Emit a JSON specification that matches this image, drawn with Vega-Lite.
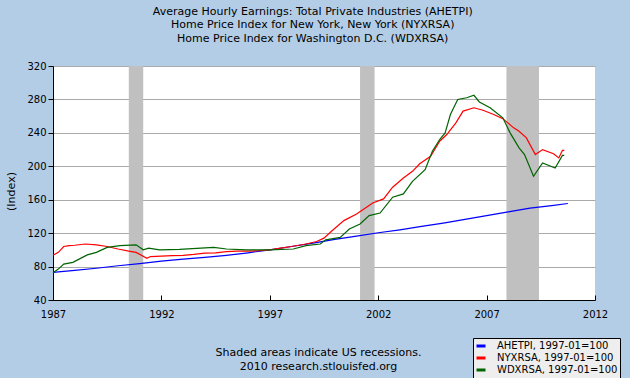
{
  "$schema": "https://vega.github.io/schema/vega-lite/v6.json",
  "width": 542,
  "height": 234,
  "autosize": {"type": "none"},
  "padding": {"left": 53, "top": 66, "right": 35, "bottom": 78},
  "background": "#b4cde6",
  "config": {
    "font": "DejaVu Sans",
    "view": {"stroke": null, "fill": "white"},
    "axis": {"labelFont": "DejaVu Sans", "labelFontSize": 10, "labelColor": "black", "titleFont": "DejaVu Sans", "titleFontWeight": "normal", "titleColor": "black", "domainColor": "black", "tickColor": "black"}
  },
  "title": {
    "text": ["Average Hourly Earnings: Total Private Industries (AHETPI)", "Home Price Index for New York, New York (NYXRSA)", "Home Price Index for Washington D.C. (WDXRSA)"],
    "anchor": "middle",
    "frame": "bounds",
    "offset": 17,
    "fontSize": 11,
    "fontWeight": "normal",
    "font": "DejaVu Sans",
    "color": "black",
    "lineHeight": 13.6
  },
  "datasets": {
    "recessions": [
      {"start": "1990-07-01", "end": "1991-03-01"},
      {"start": "2001-03-01", "end": "2001-11-01"},
      {"start": "2007-12-01", "end": "2009-06-01"}
    ],
    "series": [
      {"date": "1987-01-01", "series": "AHETPI, 1997-01=100", "value": 73},
      {"date": "1988-01-01", "series": "AHETPI, 1997-01=100", "value": 75.5},
      {"date": "1989-01-01", "series": "AHETPI, 1997-01=100", "value": 78},
      {"date": "1990-01-01", "series": "AHETPI, 1997-01=100", "value": 81},
      {"date": "1991-01-01", "series": "AHETPI, 1997-01=100", "value": 83.5},
      {"date": "1992-01-01", "series": "AHETPI, 1997-01=100", "value": 86.5},
      {"date": "1993-01-01", "series": "AHETPI, 1997-01=100", "value": 89},
      {"date": "1994-01-01", "series": "AHETPI, 1997-01=100", "value": 91},
      {"date": "1995-01-01", "series": "AHETPI, 1997-01=100", "value": 93.5},
      {"date": "1996-01-01", "series": "AHETPI, 1997-01=100", "value": 96.5},
      {"date": "1997-01-01", "series": "AHETPI, 1997-01=100", "value": 100},
      {"date": "1998-01-01", "series": "AHETPI, 1997-01=100", "value": 104},
      {"date": "1999-01-01", "series": "AHETPI, 1997-01=100", "value": 108},
      {"date": "2000-01-01", "series": "AHETPI, 1997-01=100", "value": 112.5},
      {"date": "2001-01-01", "series": "AHETPI, 1997-01=100", "value": 116.5},
      {"date": "2002-01-01", "series": "AHETPI, 1997-01=100", "value": 120.5},
      {"date": "2003-01-01", "series": "AHETPI, 1997-01=100", "value": 124},
      {"date": "2004-01-01", "series": "AHETPI, 1997-01=100", "value": 128},
      {"date": "2005-01-01", "series": "AHETPI, 1997-01=100", "value": 132},
      {"date": "2006-01-01", "series": "AHETPI, 1997-01=100", "value": 136.5},
      {"date": "2007-01-01", "series": "AHETPI, 1997-01=100", "value": 141},
      {"date": "2008-01-01", "series": "AHETPI, 1997-01=100", "value": 145.5},
      {"date": "2009-01-01", "series": "AHETPI, 1997-01=100", "value": 150},
      {"date": "2010-01-01", "series": "AHETPI, 1997-01=100", "value": 153},
      {"date": "2010-10-01", "series": "AHETPI, 1997-01=100", "value": 155.5},

      {"date": "1987-01-01", "series": "NYXRSA, 1997-01=100", "value": 93.5},
      {"date": "1987-04-01", "series": "NYXRSA, 1997-01=100", "value": 97},
      {"date": "1987-07-01", "series": "NYXRSA, 1997-01=100", "value": 104},
      {"date": "1987-10-01", "series": "NYXRSA, 1997-01=100", "value": 105},
      {"date": "1988-01-01", "series": "NYXRSA, 1997-01=100", "value": 105.5},
      {"date": "1988-07-01", "series": "NYXRSA, 1997-01=100", "value": 107},
      {"date": "1989-01-01", "series": "NYXRSA, 1997-01=100", "value": 106},
      {"date": "1989-07-01", "series": "NYXRSA, 1997-01=100", "value": 104},
      {"date": "1990-01-01", "series": "NYXRSA, 1997-01=100", "value": 101},
      {"date": "1990-07-01", "series": "NYXRSA, 1997-01=100", "value": 98.5},
      {"date": "1990-11-01", "series": "NYXRSA, 1997-01=100", "value": 97},
      {"date": "1991-05-01", "series": "NYXRSA, 1997-01=100", "value": 90},
      {"date": "1991-07-01", "series": "NYXRSA, 1997-01=100", "value": 92},
      {"date": "1992-01-01", "series": "NYXRSA, 1997-01=100", "value": 92.5},
      {"date": "1992-07-01", "series": "NYXRSA, 1997-01=100", "value": 93},
      {"date": "1993-01-01", "series": "NYXRSA, 1997-01=100", "value": 93.5},
      {"date": "1993-07-01", "series": "NYXRSA, 1997-01=100", "value": 94.5},
      {"date": "1994-01-01", "series": "NYXRSA, 1997-01=100", "value": 96},
      {"date": "1994-07-01", "series": "NYXRSA, 1997-01=100", "value": 96.5},
      {"date": "1995-01-01", "series": "NYXRSA, 1997-01=100", "value": 98},
      {"date": "1995-07-01", "series": "NYXRSA, 1997-01=100", "value": 98.5},
      {"date": "1996-01-01", "series": "NYXRSA, 1997-01=100", "value": 98.5},
      {"date": "1996-07-01", "series": "NYXRSA, 1997-01=100", "value": 99},
      {"date": "1997-01-01", "series": "NYXRSA, 1997-01=100", "value": 100},
      {"date": "1997-07-01", "series": "NYXRSA, 1997-01=100", "value": 102},
      {"date": "1998-01-01", "series": "NYXRSA, 1997-01=100", "value": 104},
      {"date": "1998-09-01", "series": "NYXRSA, 1997-01=100", "value": 107},
      {"date": "1999-03-01", "series": "NYXRSA, 1997-01=100", "value": 110},
      {"date": "1999-07-01", "series": "NYXRSA, 1997-01=100", "value": 114},
      {"date": "1999-11-01", "series": "NYXRSA, 1997-01=100", "value": 122},
      {"date": "2000-06-01", "series": "NYXRSA, 1997-01=100", "value": 135},
      {"date": "2001-01-01", "series": "NYXRSA, 1997-01=100", "value": 143},
      {"date": "2001-10-01", "series": "NYXRSA, 1997-01=100", "value": 156},
      {"date": "2002-04-01", "series": "NYXRSA, 1997-01=100", "value": 161},
      {"date": "2002-09-01", "series": "NYXRSA, 1997-01=100", "value": 175},
      {"date": "2003-03-01", "series": "NYXRSA, 1997-01=100", "value": 186},
      {"date": "2003-08-01", "series": "NYXRSA, 1997-01=100", "value": 194},
      {"date": "2003-12-01", "series": "NYXRSA, 1997-01=100", "value": 203},
      {"date": "2004-06-01", "series": "NYXRSA, 1997-01=100", "value": 212},
      {"date": "2004-11-01", "series": "NYXRSA, 1997-01=100", "value": 230},
      {"date": "2005-03-01", "series": "NYXRSA, 1997-01=100", "value": 238},
      {"date": "2005-08-01", "series": "NYXRSA, 1997-01=100", "value": 252},
      {"date": "2005-12-01", "series": "NYXRSA, 1997-01=100", "value": 266},
      {"date": "2006-06-01", "series": "NYXRSA, 1997-01=100", "value": 270},
      {"date": "2006-11-01", "series": "NYXRSA, 1997-01=100", "value": 267},
      {"date": "2007-05-01", "series": "NYXRSA, 1997-01=100", "value": 262},
      {"date": "2007-10-01", "series": "NYXRSA, 1997-01=100", "value": 257},
      {"date": "2008-04-01", "series": "NYXRSA, 1997-01=100", "value": 246},
      {"date": "2008-07-01", "series": "NYXRSA, 1997-01=100", "value": 242},
      {"date": "2008-11-01", "series": "NYXRSA, 1997-01=100", "value": 234},
      {"date": "2009-04-01", "series": "NYXRSA, 1997-01=100", "value": 214},
      {"date": "2009-08-01", "series": "NYXRSA, 1997-01=100", "value": 220},
      {"date": "2010-02-01", "series": "NYXRSA, 1997-01=100", "value": 215},
      {"date": "2010-05-01", "series": "NYXRSA, 1997-01=100", "value": 210},
      {"date": "2010-07-01", "series": "NYXRSA, 1997-01=100", "value": 219},
      {"date": "2010-08-01", "series": "NYXRSA, 1997-01=100", "value": 219},

      {"date": "1987-01-01", "series": "WDXRSA, 1997-01=100", "value": 72.7},
      {"date": "1987-04-01", "series": "WDXRSA, 1997-01=100", "value": 77},
      {"date": "1987-07-01", "series": "WDXRSA, 1997-01=100", "value": 83},
      {"date": "1987-12-01", "series": "WDXRSA, 1997-01=100", "value": 85},
      {"date": "1988-08-01", "series": "WDXRSA, 1997-01=100", "value": 94},
      {"date": "1989-01-01", "series": "WDXRSA, 1997-01=100", "value": 97},
      {"date": "1989-07-01", "series": "WDXRSA, 1997-01=100", "value": 103},
      {"date": "1990-02-01", "series": "WDXRSA, 1997-01=100", "value": 105},
      {"date": "1990-11-01", "series": "WDXRSA, 1997-01=100", "value": 106},
      {"date": "1991-03-01", "series": "WDXRSA, 1997-01=100", "value": 100},
      {"date": "1991-06-01", "series": "WDXRSA, 1997-01=100", "value": 102},
      {"date": "1991-12-01", "series": "WDXRSA, 1997-01=100", "value": 100},
      {"date": "1992-11-01", "series": "WDXRSA, 1997-01=100", "value": 100.5},
      {"date": "1994-06-01", "series": "WDXRSA, 1997-01=100", "value": 103},
      {"date": "1995-01-01", "series": "WDXRSA, 1997-01=100", "value": 101},
      {"date": "1995-12-01", "series": "WDXRSA, 1997-01=100", "value": 100},
      {"date": "1997-01-01", "series": "WDXRSA, 1997-01=100", "value": 100},
      {"date": "1998-02-01", "series": "WDXRSA, 1997-01=100", "value": 101},
      {"date": "1998-09-01", "series": "WDXRSA, 1997-01=100", "value": 105},
      {"date": "1999-05-01", "series": "WDXRSA, 1997-01=100", "value": 107},
      {"date": "1999-08-01", "series": "WDXRSA, 1997-01=100", "value": 112},
      {"date": "2000-04-01", "series": "WDXRSA, 1997-01=100", "value": 115},
      {"date": "2000-09-01", "series": "WDXRSA, 1997-01=100", "value": 125},
      {"date": "2001-03-01", "series": "WDXRSA, 1997-01=100", "value": 131},
      {"date": "2001-08-01", "series": "WDXRSA, 1997-01=100", "value": 141},
      {"date": "2002-02-01", "series": "WDXRSA, 1997-01=100", "value": 144},
      {"date": "2002-09-01", "series": "WDXRSA, 1997-01=100", "value": 163},
      {"date": "2003-03-01", "series": "WDXRSA, 1997-01=100", "value": 167},
      {"date": "2003-08-01", "series": "WDXRSA, 1997-01=100", "value": 182},
      {"date": "2004-03-01", "series": "WDXRSA, 1997-01=100", "value": 196},
      {"date": "2004-07-01", "series": "WDXRSA, 1997-01=100", "value": 218},
      {"date": "2004-11-01", "series": "WDXRSA, 1997-01=100", "value": 232},
      {"date": "2005-02-01", "series": "WDXRSA, 1997-01=100", "value": 240},
      {"date": "2005-05-01", "series": "WDXRSA, 1997-01=100", "value": 262},
      {"date": "2005-09-01", "series": "WDXRSA, 1997-01=100", "value": 280},
      {"date": "2006-02-01", "series": "WDXRSA, 1997-01=100", "value": 282},
      {"date": "2006-06-01", "series": "WDXRSA, 1997-01=100", "value": 285},
      {"date": "2006-09-01", "series": "WDXRSA, 1997-01=100", "value": 277},
      {"date": "2007-03-01", "series": "WDXRSA, 1997-01=100", "value": 270},
      {"date": "2007-10-01", "series": "WDXRSA, 1997-01=100", "value": 258},
      {"date": "2008-02-01", "series": "WDXRSA, 1997-01=100", "value": 240},
      {"date": "2008-07-01", "series": "WDXRSA, 1997-01=100", "value": 222},
      {"date": "2008-10-01", "series": "WDXRSA, 1997-01=100", "value": 214},
      {"date": "2009-03-01", "series": "WDXRSA, 1997-01=100", "value": 188},
      {"date": "2009-08-01", "series": "WDXRSA, 1997-01=100", "value": 204},
      {"date": "2010-03-01", "series": "WDXRSA, 1997-01=100", "value": 198},
      {"date": "2010-07-01", "series": "WDXRSA, 1997-01=100", "value": 213},
      {"date": "2010-08-01", "series": "WDXRSA, 1997-01=100", "value": 213}
    ]
  },
  "layer": [
    {
      "data": {"name": "recessions"},
      "mark": {"type": "rect", "color": "#c0c0c0"},
      "encoding": {
        "x": {"field": "start", "type": "temporal"},
        "x2": {"field": "end"}
      }
    },
    {
      "data": {"name": "series"},
      "mark": {"type": "line", "strokeWidth": 1.2},
      "encoding": {
        "x": {
          "field": "date",
          "type": "temporal",
          "scale": {"domain": [{"year": 1987, "month": 1, "date": 1}, {"year": 2012, "month": 1, "date": 1}]},
          "axis": {
            "values": [{"year": 1987}, {"year": 1992}, {"year": 1997}, {"year": 2002}, {"year": 2007}, {"year": 2012}],
            "format": "%Y",
            "grid": false,
            "tickSize": -5,
            "labelPadding": 14,
            "labelFlush": false,
            "title": ["Shaded areas indicate US recessions.", "2010 research.stlouisfed.org"],
            "titleFontSize": 11,
            "titleLineHeight": 14,
            "titleX": 265,
            "titleY": 46,
            "titleBaseline": "top",
            "titleAlign": "center"
          }
        },
        "y": {
          "field": "value",
          "type": "quantitative",
          "scale": {"domain": [40, 320], "nice": false},
          "axis": {
            "values": [40, 80, 120, 160, 200, 240, 280, 320],
            "tickSize": 5,
            "labelPadding": 2,
            "gridColor": "#aaaaaa",
            "gridOpacity": 1,
            "title": "(Index)",
            "titleFontSize": 11,
            "titleAngle": -90,
            "titleX": -42,
            "titleY": 125,
            "titleAlign": "center",
            "titleBaseline": "middle"
          }
        },
        "color": {
          "field": "series",
          "type": "nominal",
          "scale": {"domain": ["AHETPI, 1997-01=100", "NYXRSA, 1997-01=100", "WDXRSA, 1997-01=100"], "range": ["#0000ff", "#ff0000", "#006400"]},
          "legend": {
            "title": null,
            "orient": "none",
            "legendX": 420,
            "legendY": 272,
            "fillColor": "#eeeeee",
            "strokeColor": "black",
            "padding": 2,
            "symbolType": "stroke",
            "symbolSize": 81,
            "symbolStrokeWidth": 3,
            "labelFontSize": 10,
            "labelFont": "DejaVu Sans",
            "labelColor": "black",
            "labelOffset": 10,
            "rowPadding": 0,
            "offset": 0
          }
        }
      }
    }
  ]
}
